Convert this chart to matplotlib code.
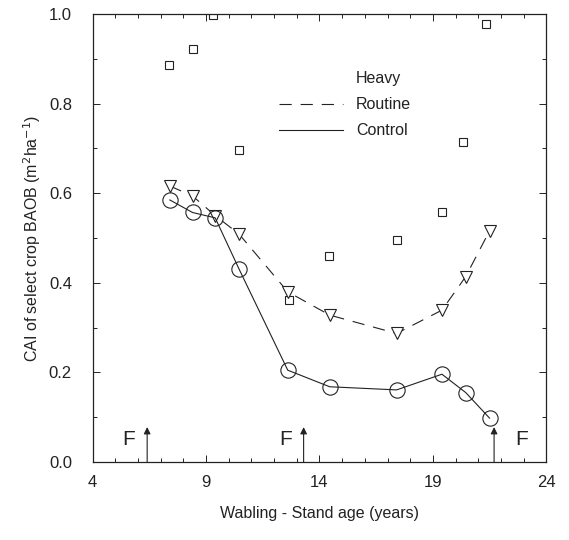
import matplotlib
matplotlib.use("Agg")
import matplotlib.pyplot as plt
from matplotlib.lines import Line2D
from matplotlib.ticker import MultipleLocator

plt.rcParams['font.family'] = ['Liberation Sans', 'DejaVu Sans']

# Data
age = [7.4, 8.4, 9.4, 10.45, 12.6, 14.45, 17.4, 19.4, 20.45, 21.5]
control = [0.585, 0.557, 0.545, 0.431, 0.205, 0.168, 0.161, 0.196, 0.155, 0.098]
routine = [0.616, 0.594, 0.55, 0.509, 0.38, 0.328, 0.287, 0.339, 0.414, 0.516]
heavy_age = [7.35, 8.4, 9.3, 10.45, 12.65, 14.4, 17.4, 19.4, 20.35, 21.35]
heavy = [0.886, 0.922, 0.998, 0.696, 0.362, 0.46, 0.495, 0.559, 0.715, 0.978]
fert_age = [6.4, 13.3, 21.7]
fert_label_x = [5.6, 12.5, 22.9]
xticks = [4, 9, 14, 19, 24]
yticks = [0.0, 0.2, 0.4, 0.6, 0.8, 1.0]

ink = '#222222'
fig = plt.figure(figsize=(5.69, 5.40), dpi=100)
ax = fig.add_axes([0.163, 0.1444, 0.797, 0.8296])

ax.plot(heavy_age, heavy, linestyle='None',
        marker='s', ms=6, mfc='white', mec=ink, mew=0.8)
ax.plot(age, routine, linestyle=(0, (11, 8)), color=ink, lw=0.8,
        marker='v', ms=8, mfc='white', mec=ink, mew=0.8)
ax.plot(age, control, linestyle='-', color=ink, lw=0.8,
        marker='o', ms=11, mfc='none', mec=ink, mew=0.8)

for fx, lx in zip(fert_age, fert_label_x):
    ax.annotate('', xy=(fx, 0.078), xytext=(fx, 0.0),
                arrowprops=dict(arrowstyle='-|>', color=ink, lw=0.8,
                                mutation_scale=10, shrinkA=0, shrinkB=0))
    ax.text(lx, 0.05, 'F', fontsize=15, color=ink, ha='center', va='center')

ax.set_xlim(4, 24)
ax.set_ylim(0, 1.0)
ax.set_xticks(xticks)
ax.set_yticks(yticks)
ax.set_yticklabels(['0.0', '0.2', '0.4', '0.6', '0.8', '1.0'])
ax.xaxis.set_minor_locator(MultipleLocator(1))
ax.yaxis.set_minor_locator(MultipleLocator(0.1))
ax.tick_params(which='both', direction='in', top=True, right=True, color=ink,
               labelsize=12, labelcolor=ink, width=0.7)
ax.tick_params(which='major', length=5)
ax.tick_params(which='minor', length=3)
ax.tick_params(axis='x', which='major', pad=9)
ax.tick_params(axis='y', which='major', pad=15)
for s in ax.spines.values():
    s.set_linewidth(0.9)
    s.set_color(ink)

ax.set_xlabel('Wabling - Stand age (years)', fontsize=11.5, color=ink, labelpad=12)
ax.set_ylabel('CAI of select crop BAOB (m$^2$ha$^{-1}$)', fontsize=11.5, color=ink, labelpad=4)

handles = [Line2D([], [], linestyle='None'),
           Line2D([], [], linestyle=(0, (11, 8)), color=ink, lw=0.8),
           Line2D([], [], linestyle='-', color=ink, lw=0.8)]
leg = ax.legend(handles, ['Heavy', 'Routine', 'Control'], frameon=False,
                loc='upper left', bbox_to_anchor=(0.38, 0.905), fontsize=11.5,
                handlelength=4.0, handletextpad=0.8, labelspacing=0.7)
for t in leg.get_texts():
    t.set_color(ink)

fig.savefig('out.png', dpi=100)
